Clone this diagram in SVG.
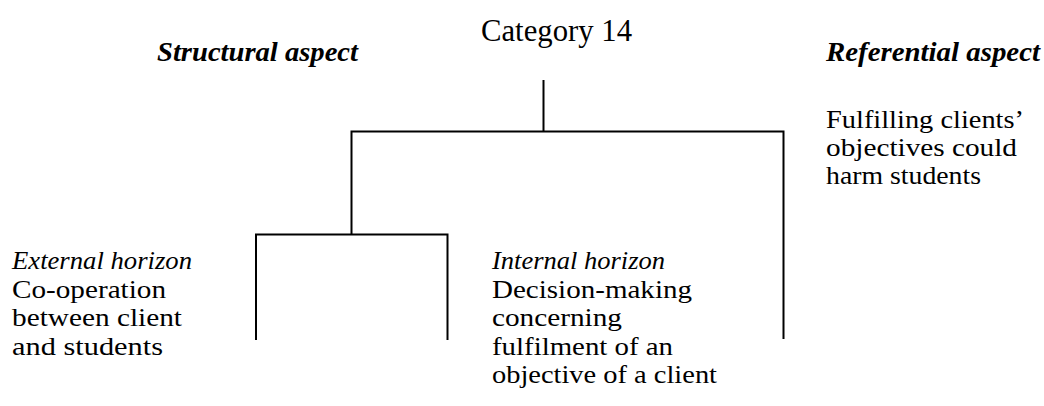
<svg xmlns="http://www.w3.org/2000/svg" width="1044" height="406" viewBox="0 0 1044 406">
  <style>
    text { font-family: "Liberation Serif", "Times New Roman", serif; fill: #000; }
    .title { font-size: 31px; }
    .head { font-size: 28px; font-weight: bold; font-style: italic; }
    .label { font-size: 25px; font-style: italic; }
    .body { font-size: 25px; }
    .link { fill: none; stroke: #000; stroke-width: 2; }
  </style>
  <rect width="1044" height="406" fill="#fff"/>

  <!-- tree connectors -->
  <g id="connectors">
    <path class="link" d="M543.5 80 V131.5"/>
    <path class="link" d="M351.5 234 V131.5 H783.5 V339"/>
    <path class="link" d="M256 340 V234.5 H447.5 V340"/>
  </g>

  <g id="category">
    <text class="title" x="481" y="41" textLength="151" lengthAdjust="spacingAndGlyphs">Category 14</text>
  </g>

  <g id="structural-aspect">
    <text class="head" x="157" y="61" textLength="201" lengthAdjust="spacingAndGlyphs">Structural aspect</text>
  </g>

  <g id="referential-aspect">
    <text class="head" x="826" y="61" textLength="214" lengthAdjust="spacingAndGlyphs">Referential aspect</text>
    <text class="body" x="826" y="127.5" textLength="198" lengthAdjust="spacingAndGlyphs">Fulfilling clients’</text>
    <text class="body" x="826" y="156" textLength="191" lengthAdjust="spacingAndGlyphs">objectives could</text>
    <text class="body" x="826" y="184" textLength="155" lengthAdjust="spacingAndGlyphs">harm students</text>
  </g>

  <g id="external-horizon">
    <text class="label" x="12" y="269" textLength="180" lengthAdjust="spacingAndGlyphs">External horizon</text>
    <text class="body" x="12" y="297.5" textLength="154" lengthAdjust="spacingAndGlyphs">Co-operation</text>
    <text class="body" x="12" y="326" textLength="170" lengthAdjust="spacingAndGlyphs">between client</text>
    <text class="body" x="12" y="354.5" textLength="151" lengthAdjust="spacingAndGlyphs">and students</text>
  </g>

  <g id="internal-horizon">
    <text class="label" x="492" y="269" textLength="173" lengthAdjust="spacingAndGlyphs">Internal horizon</text>
    <text class="body" x="492" y="297.5" textLength="200" lengthAdjust="spacingAndGlyphs">Decision-making</text>
    <text class="body" x="492" y="326" textLength="130" lengthAdjust="spacingAndGlyphs">concerning</text>
    <text class="body" x="492" y="354.5" textLength="181" lengthAdjust="spacingAndGlyphs">fulfilment of an</text>
    <text class="body" x="492" y="383" textLength="225" lengthAdjust="spacingAndGlyphs">objective of a client</text>
  </g>
</svg>
